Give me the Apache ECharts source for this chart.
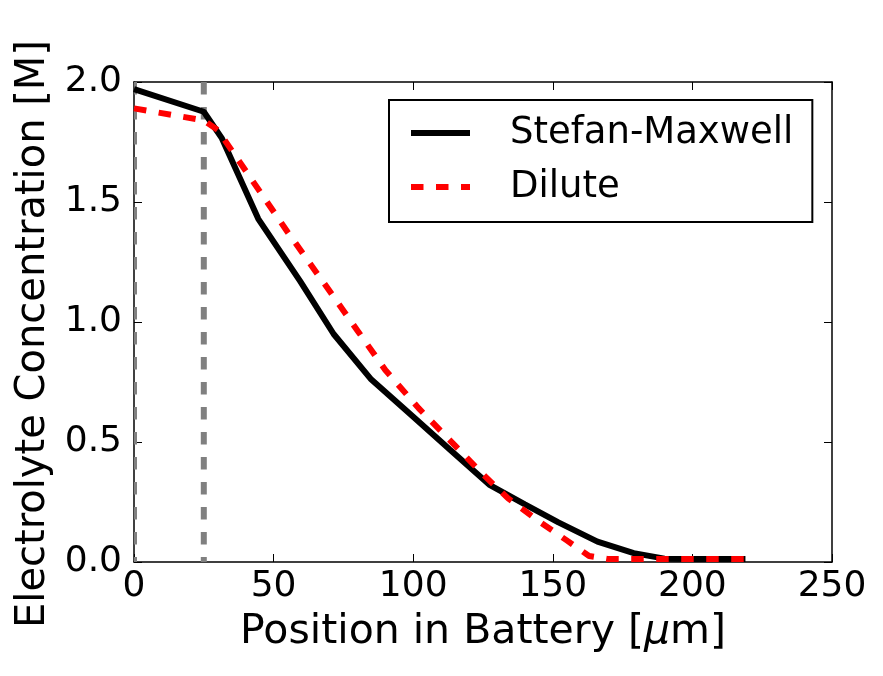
<!DOCTYPE html>
<html>
<head>
<meta charset="utf-8">
<script src="https://cdn.jsdelivr.net/npm/echarts@6/dist/echarts.min.js"></script>
<style>
html,body{margin:0;padding:0;background:#fff;}
#chart{width:883px;height:676px;}
</style>
</head>
<body>
<div id="chart"></div>
<script>
// ---- data ----
const smX = [0, 25, 31.5, 44.5, 59.5, 71.5, 85, 100, 113, 127.5, 140, 152, 166, 179, 190, 200, 219];
const smY = [1.97, 1.876, 1.765, 1.43, 1.17, 0.95, 0.76, 0.605, 0.47, 0.32, 0.24, 0.165, 0.085, 0.037, 0.014, 0.012, 0.012];
const diX = [0, 25, 30, 40, 55, 70, 80, 90, 102, 115, 125, 134, 145, 155, 163, 170, 219];
const diY = [1.89, 1.84, 1.80, 1.63, 1.375, 1.13, 0.965, 0.80, 0.64, 0.485, 0.365, 0.265, 0.17, 0.09, 0.025, 0.012, 0.012];
const dividerX = [0, 25];
const xTicks = [0, 50, 100, 150, 200, 250];
const yTicks = [0.0, 0.5, 1.0, 1.5, 2.0];
const seriesNames = ['Stefan-Maxwell', 'Dilute'];
const xLabel = 'Position in Battery [{mu|\u03bc}m]';
const yLabel = 'Electrolyte Concentration [M]';

const FONT = 'DejaVu Sans';
const pair = (xs, ys) => xs.map((x, i) => [x, ys[i]]);
const yMin = yTicks[0], yMax = yTicks[yTicks.length - 1];

const chart = echarts.init(document.getElementById('chart'), null, { renderer: 'canvas' });
const axisCommon = {
  type: 'value',
  axisLine: { show: true, onZero: false, lineStyle: { color: '#000', width: 1.5 } },
  axisTick: { show: true, inside: true, length: 8, lineStyle: { color: '#000', width: 1 } },
  splitLine: { show: false }
};
chart.setOption({
  animation: false,
  backgroundColor: '#fff',
  grid: { left: 134, top: 82, right: 51, bottom: 114, containLabel: false },
  xAxis: [
    Object.assign({}, axisCommon, {
      min: xTicks[0], max: xTicks[xTicks.length - 1], interval: 50, position: 'bottom',
      name: xLabel, nameLocation: 'middle', nameGap: 50,
      nameTextStyle: { fontFamily: FONT, fontSize: 41, color: '#000',
        rich: { mu: { fontFamily: FONT, fontSize: 41, fontStyle: 'italic', color: '#000' } } },
      axisLabel: { show: true, margin: 7, fontFamily: FONT, fontSize: 36, color: '#000' }
    }),
    Object.assign({}, axisCommon, {
      min: xTicks[0], max: xTicks[xTicks.length - 1], interval: 50, position: 'top',
      axisLabel: { show: false }
    })
  ],
  yAxis: [
    Object.assign({}, axisCommon, {
      min: yMin, max: yMax, interval: 0.5, position: 'left',
      name: yLabel, nameLocation: 'middle', nameGap: 68,
      nameTextStyle: { fontFamily: FONT, fontSize: 40, color: '#000', padding: [0, 24, 0, 0] },
      axisLabel: { show: true, margin: 12, fontFamily: FONT, fontSize: 36, color: '#000',
        formatter: v => v.toFixed(1) }
    }),
    Object.assign({}, axisCommon, {
      min: yMin, max: yMax, interval: 0.5, position: 'right',
      axisLabel: { show: false }
    })
  ],
  legend: {
    data: [
      { name: seriesNames[0], icon: 'rect' },
      { name: seriesNames[1], icon: 'path://M0,0h12.5v6h-12.5zM25,0h12.5v6h-12.5zM50,0h9v6h-9z' }
    ],
    orient: 'vertical',
    left: 389, top: 100,
    padding: [12, 19, 14, 22],
    itemWidth: 59, itemHeight: 6, itemGap: 12,
    itemStyle: { borderWidth: 0 },
    borderColor: '#000', borderWidth: 2, borderRadius: 0,
    backgroundColor: '#fff',
    textStyle: { fontFamily: FONT, fontSize: 37, color: '#000', padding: [0, 0, 0, 35], lineHeight: 42 }
  },
  series: [
    {
      type: 'custom',
      data: dividerX.map(x => [x]),
      silent: true,
      clip: true,
      z: 1,
      renderItem: (params, api) => {
        const x = api.value(0);
        const p1 = api.coord([x, yMax]);
        const p2 = api.coord([x, yMin]);
        return {
          type: 'line',
          shape: { x1: p1[0], y1: p1[1], x2: p2[0], y2: p2[1] },
          style: { stroke: '#808080', lineWidth: 6, lineDash: [12.5, 12.5], lineCap: 'butt' }
        };
      }
    },
    {
      name: seriesNames[0], type: 'line', data: pair(smX, smY),
      symbol: 'none', showSymbol: false, z: 3,
      lineStyle: { color: '#000', width: 6, type: 'solid' },
      itemStyle: { color: '#000' }
    },
    {
      name: seriesNames[1], type: 'line', data: pair(diX, diY),
      symbol: 'none', showSymbol: false, z: 4,
      lineStyle: { color: '#ff0000', width: 6, type: [12.5, 12.5], cap: 'butt' },
      itemStyle: { color: '#ff0000' }
    }
  ]
});
</script>
</body>
</html>
